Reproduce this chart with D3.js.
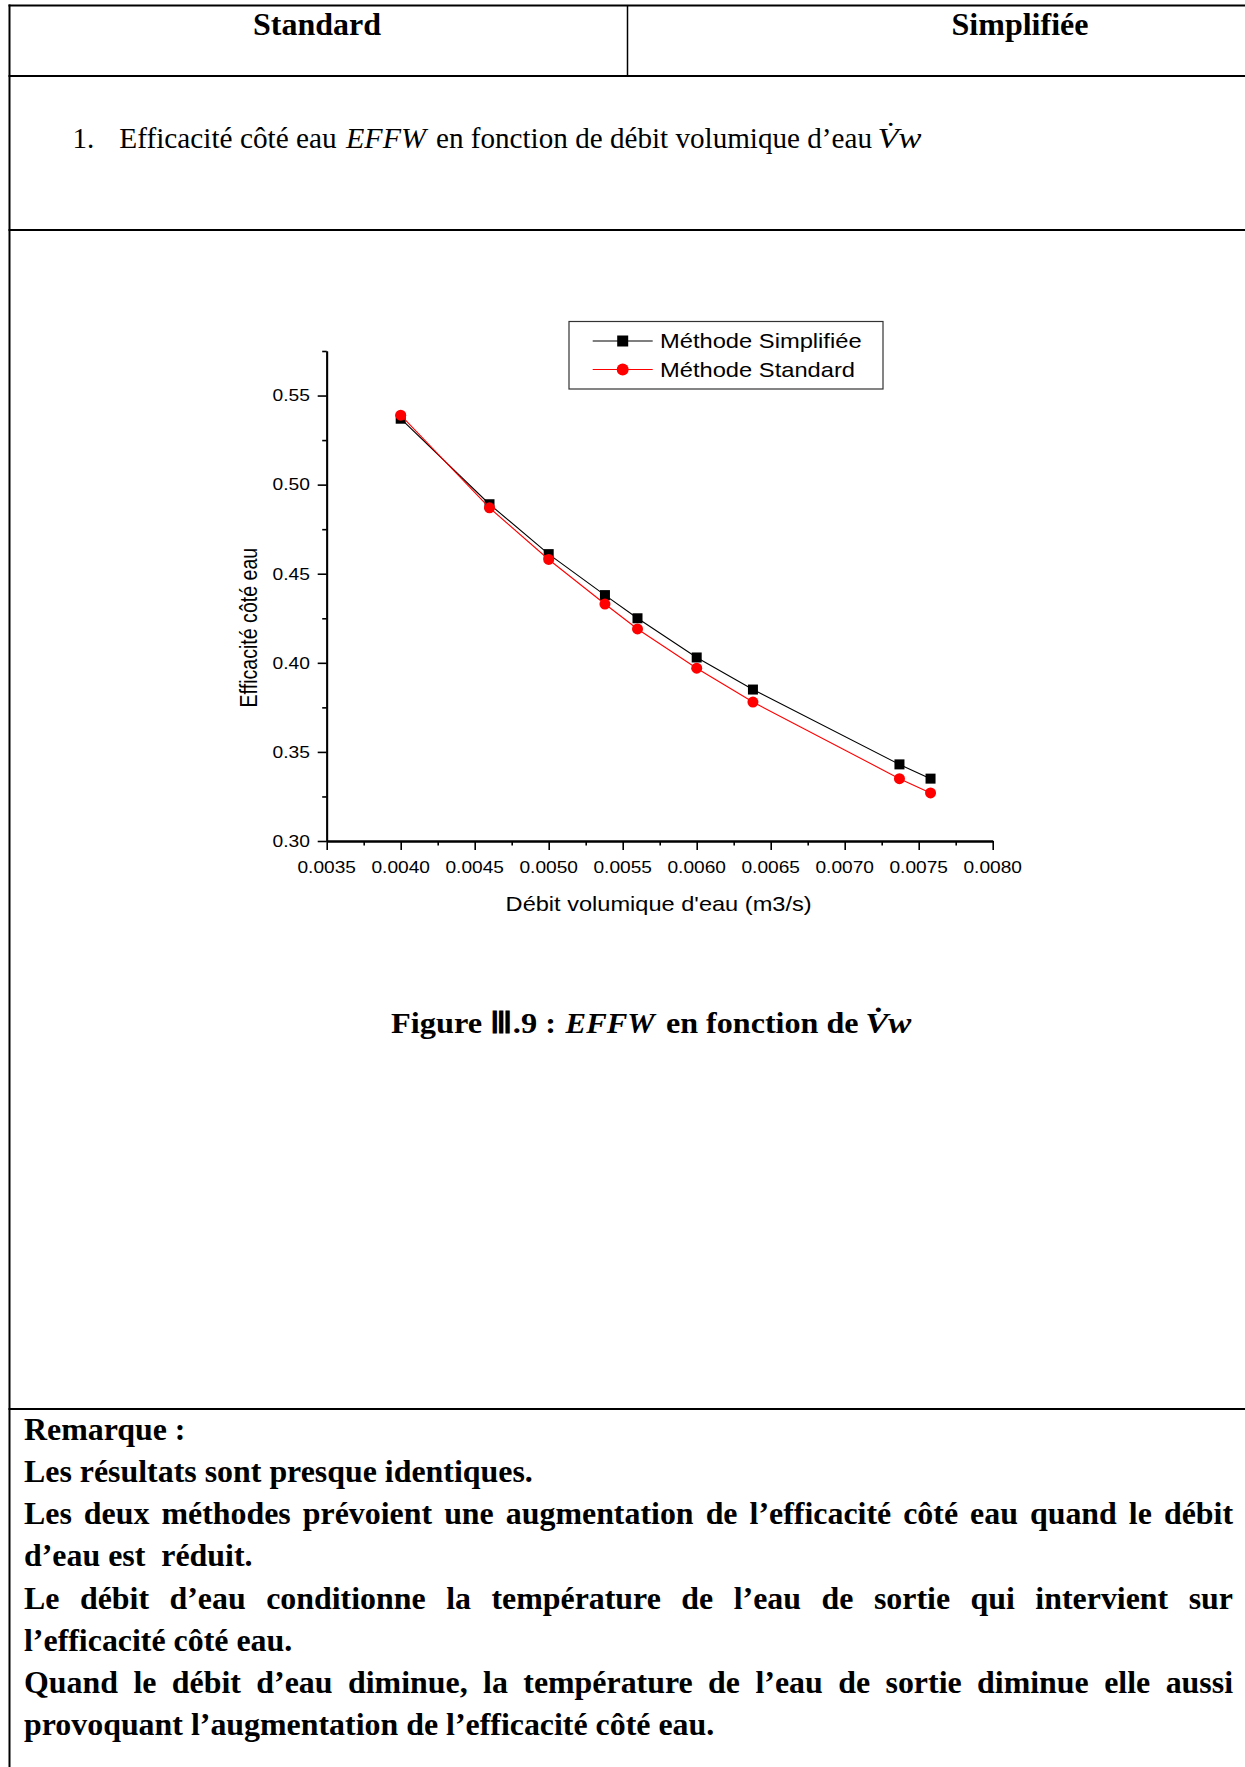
<!DOCTYPE html>
<html>
<head>
<meta charset="utf-8">
<script src="https://cdn.jsdelivr.net/npm/d3@7"></script>
<style>
  html, body { margin: 0; padding: 0; background: #fff; }
  svg { display: block; }
</style>
</head>
<body>
<svg id="page" width="1245" height="1767"></svg>
<script>
// ---------------- DATA ----------------
const flowRates      = [0.0040, 0.0046, 0.0050, 0.00538, 0.0056, 0.0060, 0.00638, 0.00737, 0.00758];
const effSimplifiee  = [0.537, 0.489, 0.461, 0.438, 0.425, 0.403, 0.385, 0.343, 0.335];
const effStandard    = [0.539, 0.487, 0.458, 0.433, 0.419, 0.397, 0.378, 0.335, 0.327];
const seriesNames    = ["Méthode Simplifiée", "Méthode Standard"];
const xTickValues    = [0.0035, 0.0040, 0.0045, 0.0050, 0.0055, 0.0060, 0.0065, 0.0070, 0.0075, 0.0080];
const yTickValues    = [0.30, 0.35, 0.40, 0.45, 0.50, 0.55];
const xMinorValues   = [0.00375, 0.00425, 0.00475, 0.00525, 0.00575, 0.00625, 0.00675, 0.00725, 0.00775];
const yMinorValues   = [0.325, 0.375, 0.425, 0.475, 0.525, 0.575];
const xTitle = "Débit volumique d'eau (m3/s)";
const yTitle = "Efficacité côté eau";
const headerLabels = ["Standard", "Simplifiée"];
const remarkLines = [
  "Remarque :",
  "Les résultats sont presque identiques.",
  "Les deux méthodes prévoient une augmentation  de l’efficacité côté eau quand le débit",
  "d’eau est  réduit.",
  "Le débit d’eau conditionne la température de l’eau de sortie qui intervient sur",
  "l’efficacité côté eau.",
  "Quand le débit d’eau diminue, la température de l’eau de sortie diminue elle aussi",
  "provoquant l’augmentation de l’efficacité côté eau."
];
const justifiedLines = [2, 4, 6];

// ---------------- PAGE ----------------
const svg = d3.select("#page");
const SERIF = "'Liberation Serif', 'Times New Roman', serif";
const SANS = "'Liberation Sans', Arial, sans-serif";
const SX = 1.18; // horizontal stretch of the embedded chart image

// table lines
const lines = svg.append("g").attr("stroke", "#000");
lines.append("line").attr("x1", 8.5).attr("x2", 1245).attr("y1", 5.5).attr("y2", 5.5).attr("stroke-width", 2);
lines.append("line").attr("x1", 9.5).attr("x2", 9.5).attr("y1", 4.5).attr("y2", 1767).attr("stroke-width", 2);
lines.append("line").attr("x1", 8.5).attr("x2", 1245).attr("y1", 76).attr("y2", 76).attr("stroke-width", 2);
lines.append("line").attr("x1", 627.5).attr("x2", 627.5).attr("y1", 5.5).attr("y2", 76).attr("stroke-width", 1.5);
lines.append("line").attr("x1", 8.5).attr("x2", 1245).attr("y1", 230).attr("y2", 230).attr("stroke-width", 2);
lines.append("line").attr("x1", 8.5).attr("x2", 1245).attr("y1", 1409).attr("y2", 1409).attr("stroke-width", 2);

// header
svg.append("text").attr("x", 317).attr("y", 35).attr("text-anchor", "middle")
  .attr("font-family", SERIF).attr("font-weight", "bold").attr("font-size", 32).text(headerLabels[0]);
svg.append("text").attr("x", 1020).attr("y", 35).attr("text-anchor", "middle")
  .attr("font-family", SERIF).attr("font-weight", "bold").attr("font-size", 32).text(headerLabels[1]);

// numbered item
function seg(x, y, str, opts, width) {
  const t = svg.append("text").attr("x", x).attr("y", y)
    .attr("font-family", opts.family || SERIF)
    .attr("font-size", opts.size)
    .attr("font-weight", opts.weight || "normal")
    .attr("font-style", opts.style || "normal")
    .text(str);
  if (width) t.attr("textLength", width).attr("lengthAdjust", "spacingAndGlyphs");
  return t;
}
const rowY = 147.5;
seg(72.5, rowY, "1.", {size: 29});
seg(119.3, rowY, "Efficacité côté eau", {size: 29.3});
seg(346, rowY, "EFFW", {size: 29, style: "italic"}, 80);
seg(436, rowY, "en fonction de débit volumique d’eau", {size: 29}, 436);
seg(877.5, rowY, "V\u0307w", {size: 29, style: "italic"}, 44);

// caption
const capY = 1033;
seg(391, capY, "Figure \u2162.9 :", {size: 30, weight: "bold"}, 165);
seg(565.6, capY, "EFFW", {size: 30, weight: "bold", style: "italic"}, 89);
seg(666, capY, "en fonction de", {size: 30, weight: "bold"}, 192.5);
seg(865.3, capY, "V\u0307w", {size: 30, weight: "bold", style: "italic"}, 46);

// remarks
const remX = 24, remRight = 1233, remY0 = 1440, remDY = 42.15, remSize = 31.9;
remarkLines.forEach((line, i) => {
  const y = remY0 + i * remDY;
  const t = svg.append("text").attr("y", y)
    .attr("font-family", SERIF).attr("font-weight", "bold").attr("font-size", remSize);
  if (justifiedLines.includes(i)) {
    const words = line.split(/\s+/);
    const widths = words.map(w => {
      const tmp = svg.append("text").attr("font-family", SERIF).attr("font-weight", "bold")
        .attr("font-size", remSize).text(w);
      const wd = tmp.node().getComputedTextLength();
      tmp.remove();
      return wd;
    });
    const total = d3.sum(widths);
    const gap = (remRight - remX - total) / (words.length - 1);
    let cx = remX;
    words.forEach((w, k) => {
      t.append("tspan").attr("x", cx).text(w);
      cx += widths[k] + gap;
    });
  } else {
    t.attr("x", remX).attr("xml:space", "preserve").text(line);
  }
});

// ---------------- CHART ----------------
const x = d3.scaleLinear().domain([0.0035, 0.0080]).range([326.7, 992.7]);
const y = d3.scaleLinear().domain([0.30, 0.575]).range([841, 351]);
const chart = svg.append("g");

function stext(g, px, py, str, size, anchor) {
  return g.append("text")
    .attr("transform", `translate(${px},${py}) scale(${SX},1)`)
    .attr("text-anchor", anchor)
    .attr("font-family", SANS).attr("font-size", size).attr("fill", "#000")
    .text(str);
}

// axes (ticks via d3 axis)
const xAxisMajor = d3.axisBottom(x).tickValues(xTickValues).tickSize(9).tickSizeOuter(0).tickFormat("");
const xAxisMinor = d3.axisBottom(x).tickValues(xMinorValues).tickSize(4.5).tickSizeOuter(0).tickFormat("");
const yAxisMajor = d3.axisLeft(y).tickValues(yTickValues).tickSize(9).tickSizeOuter(0).tickFormat("");
const yAxisMinor = d3.axisLeft(y).tickValues(yMinorValues).tickSize(4.5).tickSizeOuter(0).tickFormat("");

function styleAxis(g) {
  g.selectAll("path").attr("stroke", "#000").attr("stroke-width", 1.8);
  g.selectAll("line").attr("stroke", "#000").attr("stroke-width", 1.6);
}
chart.append("g").attr("transform", "translate(0,841)").call(xAxisMinor).call(styleAxis);
chart.append("g").attr("transform", "translate(0,841)").call(xAxisMajor).call(styleAxis);
chart.append("g").attr("transform", "translate(326.7,0)").call(yAxisMinor).call(styleAxis);
chart.append("g").attr("transform", "translate(326.7,0)").call(yAxisMajor).call(styleAxis);

const fx = d3.format(".4f"), fy = d3.format(".2f");
xTickValues.forEach(v => stext(chart, x(v), 873, fx(v), 16.2, "middle"));
yTickValues.forEach(v => stext(chart, 310, y(v) + 5.8, fy(v), 16.3, "end"));

stext(chart, 658.6, 911, xTitle, 20, "middle");
chart.append("text")
  .attr("transform", `translate(257,627.6) rotate(-90) scale(1,${SX})`)
  .attr("text-anchor", "middle")
  .attr("font-family", SANS).attr("font-size", 19.6).attr("fill", "#000")
  .text(yTitle);

// series
const seriesData = [
  {name: seriesNames[0], values: effSimplifiee, color: "#000", shape: "square"},
  {name: seriesNames[1], values: effStandard, color: "#ff0000", shape: "circle"}
];
const lineGen = d3.line().x(d => x(d[0])).y(d => y(d[1]));
seriesData.forEach(s => {
  const pts = flowRates.map((f, i) => [f, s.values[i]]);
  chart.append("path").attr("d", lineGen(pts)).attr("fill", "none")
    .attr("stroke", s.color).attr("stroke-width", 1.1);
  if (s.shape === "square") {
    chart.selectAll(null).data(pts).enter().append("rect")
      .attr("x", d => x(d[0]) - 5).attr("y", d => y(d[1]) - 5)
      .attr("width", 10).attr("height", 10).attr("fill", s.color);
  } else {
    chart.selectAll(null).data(pts).enter().append("circle")
      .attr("cx", d => x(d[0])).attr("cy", d => y(d[1])).attr("r", 5.5).attr("fill", s.color);
  }
});

// legend
const leg = chart.append("g");
leg.append("rect").attr("x", 569).attr("y", 321.5).attr("width", 314).attr("height", 67.5)
  .attr("fill", "#fff").attr("stroke", "#333").attr("stroke-width", 1.2);
seriesData.forEach((s, i) => {
  const cy = 341 + i * 28.5;
  leg.append("line").attr("x1", 592.7).attr("x2", 652.7).attr("y1", cy).attr("y2", cy)
    .attr("stroke", s.color).attr("stroke-width", 1.1);
  if (s.shape === "square") {
    leg.append("rect").attr("x", 622.7 - 5.5).attr("y", cy - 5.5).attr("width", 11).attr("height", 11).attr("fill", s.color);
  } else {
    leg.append("circle").attr("cx", 622.7).attr("cy", cy).attr("r", 6).attr("fill", s.color);
  }
  stext(leg, 660, cy + 7, s.name, 20.1, "start");
});
</script>
</body>
</html>
